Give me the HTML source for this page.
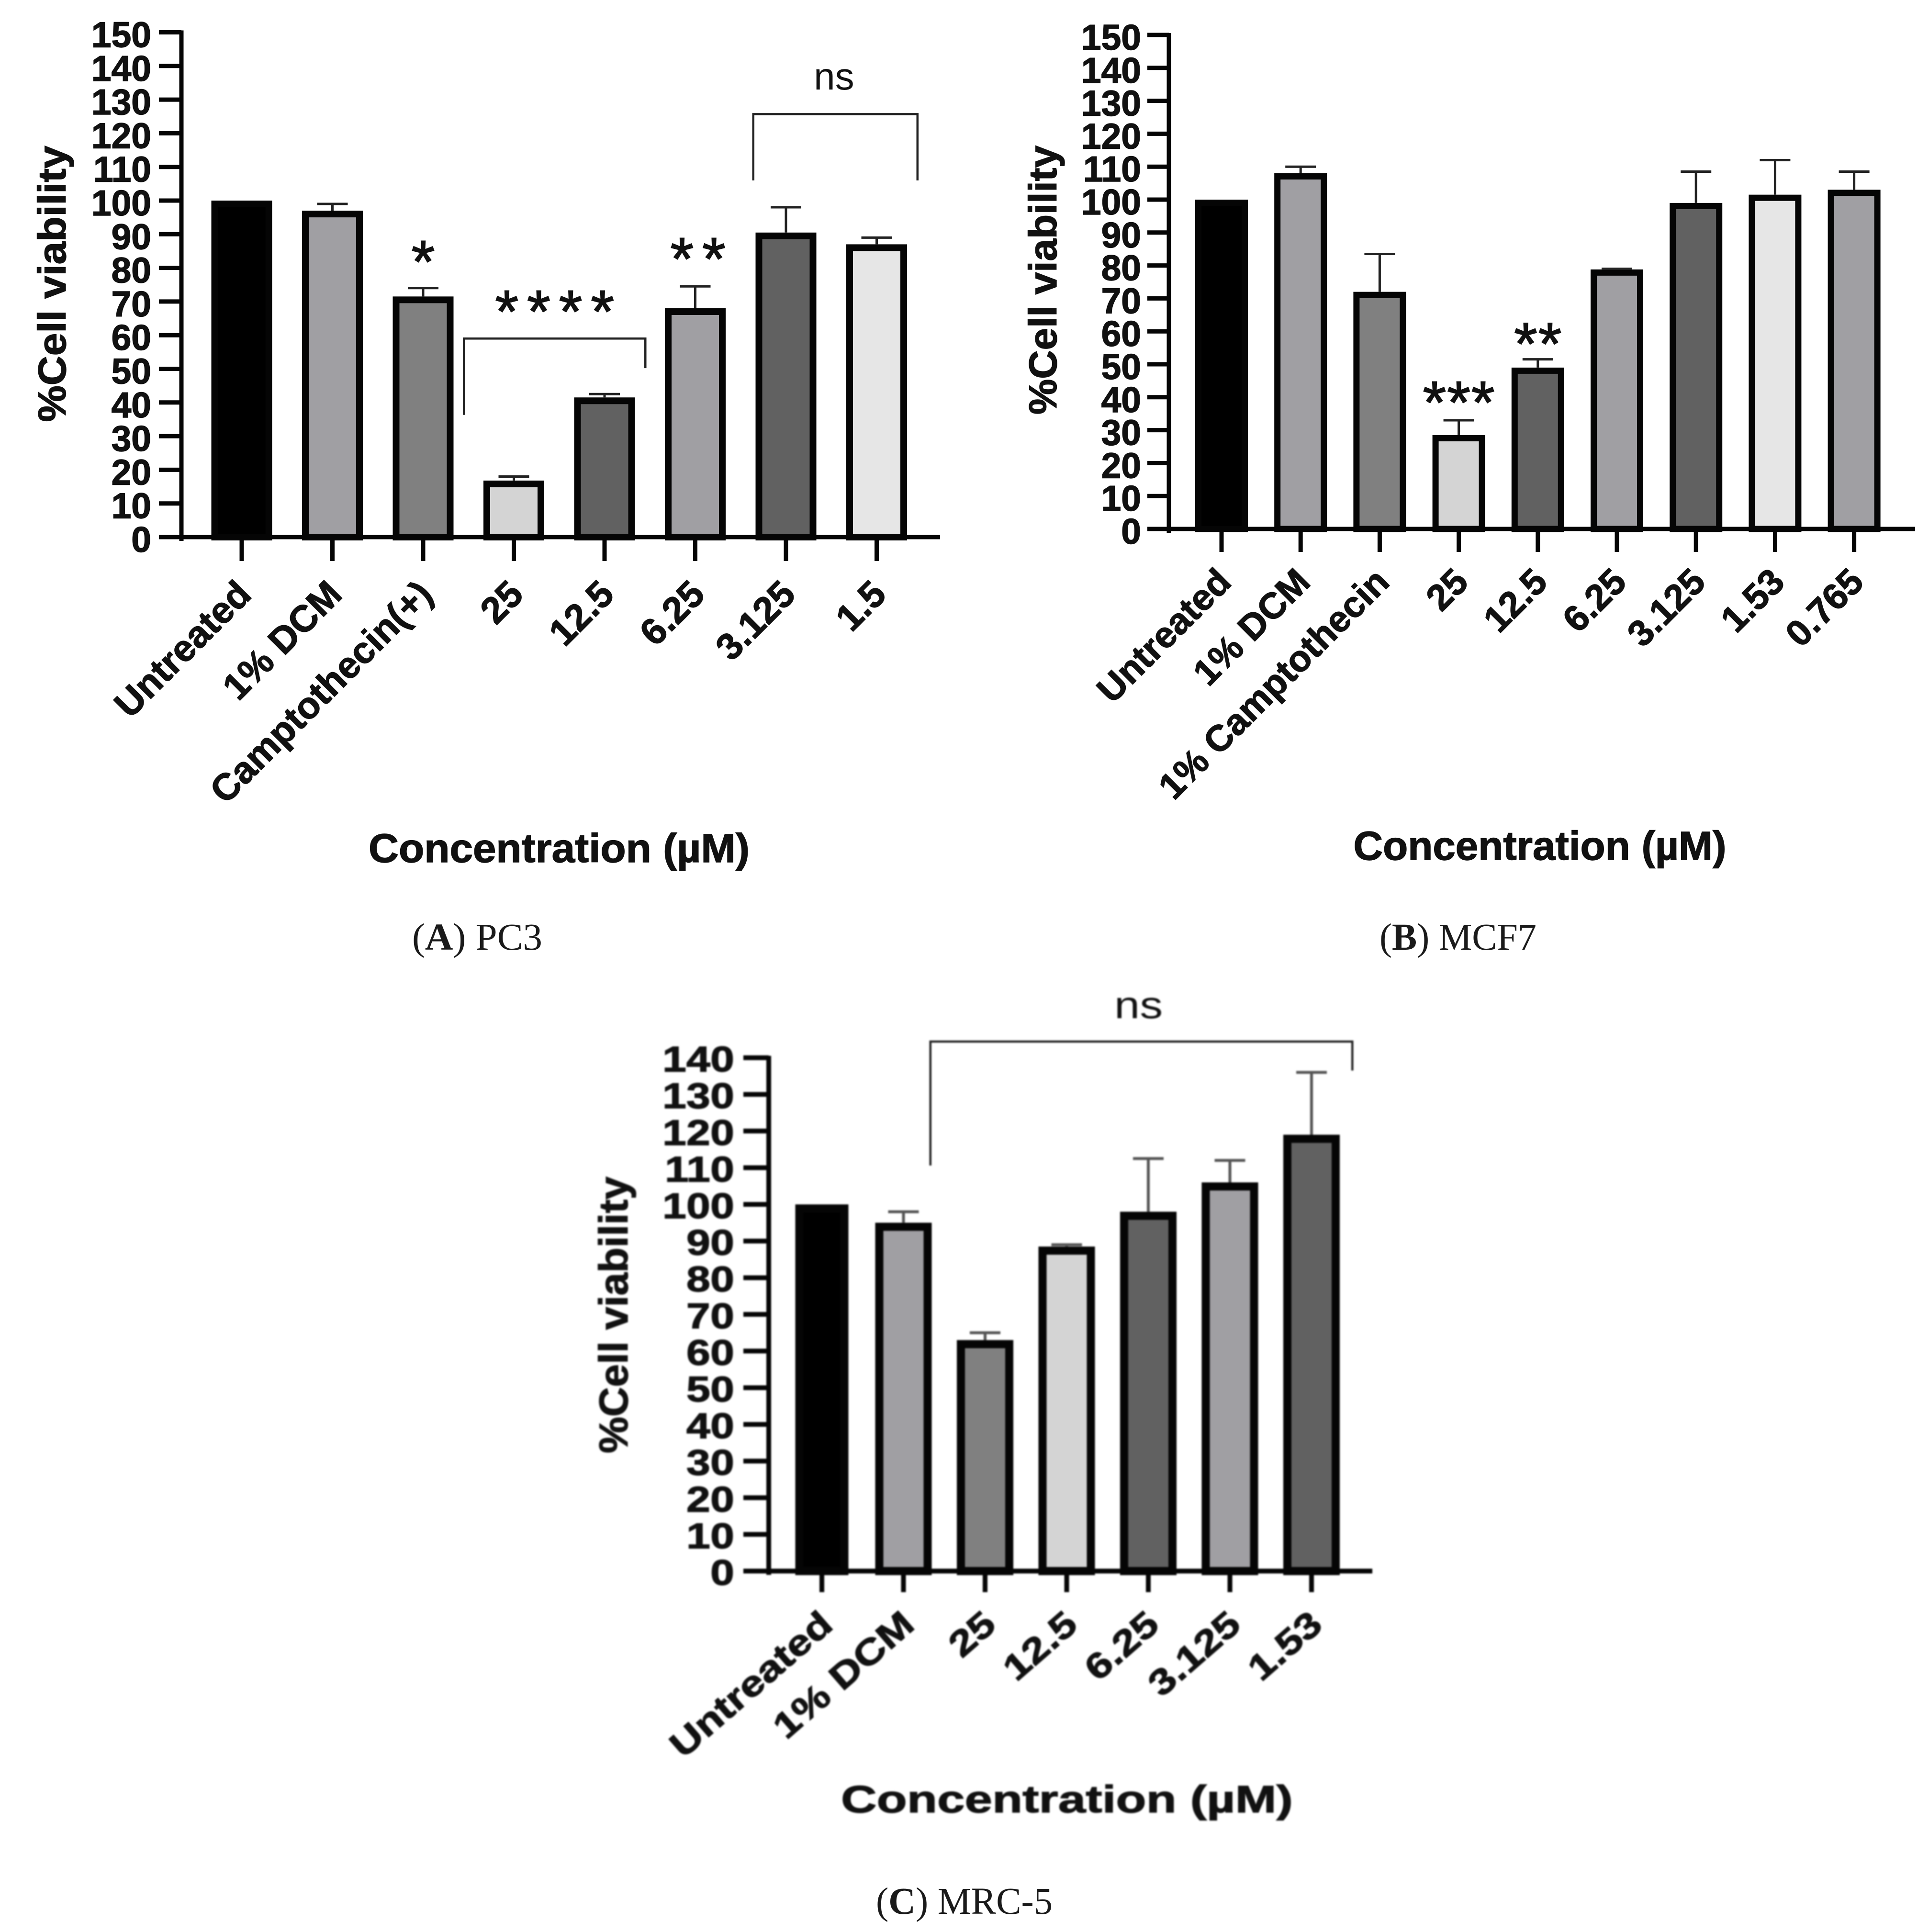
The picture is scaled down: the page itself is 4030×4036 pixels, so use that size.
<!DOCTYPE html>
<html lang="en">
<head>
<meta charset="utf-8">
<title>Cell viability charts</title>
<style>
html,body{margin:0;padding:0;background:#fff;width:4030px;height:4036px;overflow:hidden}
svg{display:block}
text{font-family:"Liberation Sans",Arial,sans-serif;fill:#111}
.b{font-weight:700;stroke:#111;stroke-width:1.4}
.cap{font-family:"Liberation Serif",serif;fill:#1a1a1a}
</style>
</head>
<body>
<svg id="fig" xmlns="http://www.w3.org/2000/svg" width="4030" height="4036" viewBox="0 0 4030 4036">
<rect width="4030" height="4036" fill="#fff"/>
<text class="cap" x="861" y="1984" font-size="79" textLength="272" lengthAdjust="spacingAndGlyphs">(<tspan font-weight="700">A</tspan>) PC3</text>
<text class="cap" x="2882" y="1984" font-size="79" textLength="328" lengthAdjust="spacingAndGlyphs">(<tspan font-weight="700">B</tspan>) MCF7</text>
<text class="cap" x="1830" y="3998" font-size="79" textLength="369" lengthAdjust="spacingAndGlyphs">(<tspan font-weight="700">C</tspan>) MRC-5</text>
</svg>
<script>
// Panel A: PC3
const categoriesA = ["Untreated","1% DCM","Camptothecin(+)","25","12.5","6.25","3.125","1.5"];
const valuesA = [100,97,71.5,16.8,41.5,68,90.5,87];
const errorTopsA = [100,99,74,18,42.5,74.5,98,89];
const yTicksA = [0,10,20,30,40,50,60,70,80,90,100,110,120,130,140,150];
const fillsA = ["#000","#a09fa3","#808080","#d4d4d4","#616161","#a09fa3","#616161","#e6e6e6"];
const bracketsA = [
  {from:2.45,to:4.45,top:59,leftEnd:36.3,rightEnd:50.2},
  {from:5.64,to:7.45,top:125.7,leftEnd:106,rightEnd:106}
];
const bracketLabelsA = [{text:"ns",cat:6.53,value:133}];
const starsA = [
  {text:"*",cat:2,value:75.7},
  {text:"**",cat:5.03,value:76.5},
  {text:"****",cat:3.45,value:60.9}
];

// Panel B: MCF7
const categoriesB = ["Untreated","1% DCM","1% Camptothecin","25","12.5","6.25","3.125","1.53","0.765"];
const valuesB = [100,108,72,28.5,49,78.8,99,101.5,103];
const errorTopsB = [100,110,83.5,33,51.5,79,108.5,112,108.5];
const yTicksB = [0,10,20,30,40,50,60,70,80,90,100,110,120,130,140,150];
const fillsB = ["#000","#a09fa3","#808080","#d4d4d4","#616161","#a09fa3","#616161","#e6e6e6","#a09fa3"];
const starsB = [
  {text:"***",cat:3,value:32.1},
  {text:"**",cat:4,value:49.9}
];

// Panel C: MRC-5
const categoriesC = ["Untreated","1% DCM","25","12.5","6.25","3.125","1.53"];
const valuesC = [100,95,63,88.5,98,106,119];
const errorTopsC = [100,98,65,89,112.5,112,136];
const yTicksC = [0,10,20,30,40,50,60,70,80,90,100,110,120,130,140];
const fillsC = ["#000","#a09fa3","#808080","#d4d4d4","#616161","#a09fa3","#616161"];
const bracketsC = [{from:1.33,to:6.5,top:144.4,leftEnd:110.6,rightEnd:136.5}];
const bracketLabelsC = [{text:"ns",cat:3.88,value:150.8}];

const NS = "http://www.w3.org/2000/svg";
const fig = document.getElementById("fig");

function mk(parent, tag, attrs) {
  const el = document.createElementNS(NS, tag);
  for (const k in attrs) el.setAttribute(k, attrs[k]);
  parent.appendChild(el);
  return el;
}

function drawPanel(c) {
  const g = mk(fig, "g", {});
  
  
  if (c.blur) g.setAttribute("style", "filter:blur(" + c.blur + "px)");
  const Y = v => c.y0 - v * c.unit;
  const X = i => c.x0 + i * c.step;

  // bars
  c.values.forEach((v, i) => {
    const w = (i === 0 && c.firstW) ? c.firstW : c.barW;
    const bar = mk(g, "rect", {
      x: X(i) - w / 2 + c.barS / 2,
      y: Y(v) + c.barS / 2,
      width: w - c.barS,
      height: Math.max(0, Y(0) - Y(v) - c.barS / 2),
      fill: c.fills[i], stroke: "#050505", "stroke-width": c.barS
    });
    
    
    const top = c.errors[i];
    if (top > v) {
      const err = mk(g, "path", {
        d: "M" + X(i) + " " + Y(v) + "V" + Y(top) + "M" + (X(i) - c.capW / 2) + " " + Y(top) + "H" + (X(i) + c.capW / 2),
        stroke: c.errColor, "stroke-width": c.errS, fill: "none"
      });
      
      
    }
  });

  // axes
  const yAxis = mk(g, "line", {x1: c.axisX, x2: c.axisX, y1: Y(c.yTicks[c.yTicks.length - 1]) - 4, y2: Y(0) + 8, stroke: "#050505", "stroke-width": c.axisS});
  
  
  const xAxis = mk(g, "line", {x1: c.axisX, x2: c.axisEnd, y1: Y(0), y2: Y(0), stroke: "#050505", "stroke-width": c.axisS});
  
  

  // y ticks + labels
  c.yTicks.forEach(t => {
    const tick = mk(g, "line", {x1: c.axisX - c.tickL, x2: c.axisX, y1: Y(t), y2: Y(t), stroke: "#050505", "stroke-width": c.axisS});
    
    
    const lab = mk(g, "text", {class: "b", "font-size": c.tickFont, "text-anchor": "end", transform: "translate(" + c.yLabelX + " " + (Y(t) + c.yLabelDy) + ") scale(" + c.sx + " 1)"});
    
    
    lab.textContent = t;
  });

  // x ticks + labels
  c.categories.forEach((name, i) => {
    const tick = mk(g, "line", {x1: X(i), x2: X(i), y1: Y(0), y2: Y(0) + c.xTickL, stroke: "#050505", "stroke-width": c.axisS});
    
    
    const lab = mk(g, "text", {class: "b", "font-size": c.catFont, "text-anchor": "end", transform: "translate(" + (X(i) + c.catDx) + " " + (Y(0) + c.catDy) + ") rotate(" + c.catAngle + ") scale(" + c.sx + " 1)"});
    
    
    lab.textContent = name;
  });

  // axis titles
  const yt = mk(g, "text", {class: "b", "font-size": c.yTitle.size, "text-anchor": "middle", textLength: c.yTitle.len, lengthAdjust: "spacingAndGlyphs", transform: "translate(" + c.yTitle.x + " " + c.yTitle.y + ") rotate(-90)"});
  
  
  yt.textContent = "%Cell viability";
  const xt = mk(g, "text", {class: "b", "font-size": c.xTitle.size, "text-anchor": "middle", textLength: c.xTitle.len, lengthAdjust: "spacingAndGlyphs", x: c.xTitle.x, y: c.xTitle.y});
  
  
  xt.textContent = "Concentration (\u00b5M)";

  // significance brackets
  (c.brackets || []).forEach(b => {
    const br = mk(g, "path", {
      d: "M" + X(b.from) + " " + Y(b.leftEnd) + "V" + Y(b.top) + "H" + X(b.to) + "V" + Y(b.rightEnd),
      stroke: "#222", "stroke-width": 4.5, fill: "none"
    });
    
    
  });
  (c.bracketLabels || []).forEach(l => {
    const t = mk(g, "text", {"font-size": 80, "text-anchor": "middle", transform: "translate(" + X(l.cat) + " " + Y(l.value) + ") scale(" + c.sx + " 1)"});
    
    
    t.textContent = l.text;
  });
  (c.stars || []).forEach(s => {
    const t = mk(g, "text", {"font-size": 125, "text-anchor": "middle", "letter-spacing": c.starGap, stroke: "#111", "stroke-width": 2, x: X(s.cat) + c.starGap / 2, y: Y(s.value)});
    
    
    t.textContent = s.text;
  });
}

drawPanel({
  name: "panel-a-pc3", categories: categoriesA, values: valuesA, errors: errorTopsA, yTicks: yTicksA, fills: fillsA,
  brackets: bracketsA, bracketLabels: bracketLabelsA, stars: starsA, starGap: 18,
  x0: 505, step: 189.5, y0: 1122, unit: 7.03, axisX: 379, axisEnd: 1964,
  barW: 127, barS: 14, capW: 64, errS: 5, errColor: "#222", axisS: 9, tickL: 47, xTickL: 50,
  tickFont: 75, yLabelX: 316, yLabelDy: 31, sx: 1,
  catFont: 78, catDx: 24, catDy: 124, catAngle: -45,
  yTitle: {size: 82, x: 137, y: 593, len: 577},
  xTitle: {size: 84, x: 1168, y: 1801, len: 796}
});
drawPanel({
  name: "panel-b-mcf7", categories: categoriesB, values: valuesB, errors: errorTopsB, yTicks: yTicksB, fills: fillsB,
  stars: starsB, starGap: 2,
  x0: 2552, step: 165.2, y0: 1105, unit: 6.88, axisX: 2442, axisEnd: 4001,
  barW: 110, barS: 13, capW: 64, errS: 5, errColor: "#222", axisS: 9, tickL: 45, xTickL: 48,
  tickFont: 75, yLabelX: 2384, yLabelDy: 31, sx: 1,
  catFont: 76.5, catDx: 24, catDy: 115, catAngle: -45,
  yTitle: {size: 82, x: 2207, y: 585, len: 562},
  xTitle: {size: 84, x: 3217, y: 1796, len: 779}
});
drawPanel({
  name: "panel-c-mrc5", categories: categoriesC, values: valuesC, errors: errorTopsC, yTicks: yTicksC, fills: fillsC,
  brackets: bracketsC, bracketLabels: bracketLabelsC, blur: 1.5,
  x0: 1717, step: 170.5, y0: 3282, unit: 7.66, axisX: 1606, axisEnd: 2867,
  barW: 118, firstW: 111, barS: 17, capW: 64, errS: 6, errColor: "#555", axisS: 10, tickL: 53, xTickL: 44,
  tickFont: 75, yLabelX: 1534, yLabelDy: 29, sx: 1.2,
  catFont: 75, catDx: 27, catDy: 118, catAngle: -41,
  yTitle: {size: 84, x: 1311, y: 2747, len: 578},
  xTitle: {size: 80, x: 2229, y: 3786, len: 944}
});
</script>
</body>
</html>
